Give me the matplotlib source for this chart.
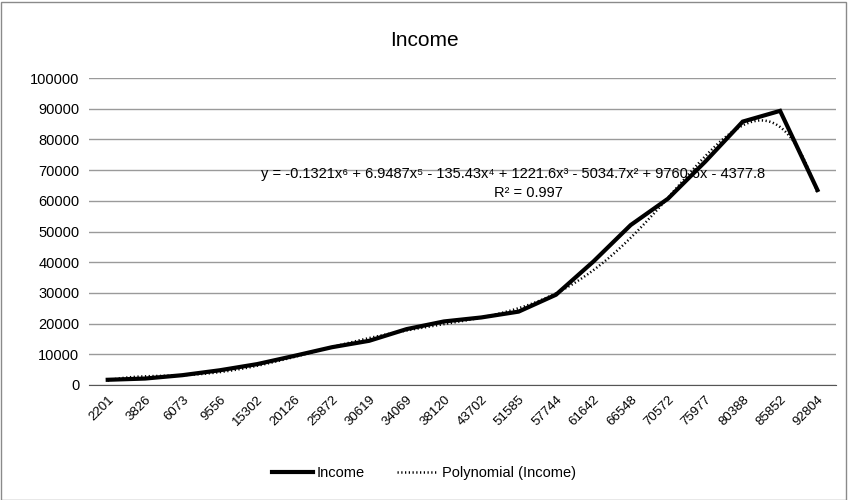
import matplotlib
matplotlib.use("Agg")
import matplotlib.pyplot as plt
from matplotlib.patches import Rectangle
import numpy as np

plt.rcParams['font.family'] = ['Liberation Sans', 'DejaVu Sans']

# Datos del grafico
categorias = ['2201', '3826', '6073', '9556', '15302', '20126', '25872', '30619',
              '34069', '38120', '43702', '51585', '57744', '61642', '66548',
              '70572', '75977', '80388', '85852', '92804']
ingresos = [1700, 2100, 3200, 4800, 6800, 9500, 12300, 14400, 18200, 20700,
            22000, 23900, 29400, 40200, 52100, 60700, 72800, 85800, 89300, 63500]
# Coeficientes de la tendencia polinomica (orden 6), tal como aparecen
coef_tendencia = [-0.1321, 6.9487, -135.43, 1221.6, -5034.7, 9760.6, -4377.8]
ecuacion = "y = -0.1321x⁶ + 6.9487x⁵ - 135.43x⁴ + 1221.6x³ - 5034.7x² + 9760.6x - 4377.8"
r2 = "R² = 0.997"

fig = plt.figure(figsize=(8.48, 5), dpi=100)
ax = fig.add_axes([0.105, 0.23, 0.881, 0.614])

x = np.arange(len(ingresos))
linea, = ax.plot(x, ingresos, color='black', lw=3, solid_joinstyle='miter', label='Income')

# Tendencia polinomica
xs = np.linspace(1, len(ingresos), 300)
ys = np.polyval(coef_tendencia, xs)
tend, = ax.plot(xs - 1, ys, color='black', lw=1.8, linestyle=(0, (0.5, 1.0)),
                label='Polynomial (Income)')

ax.set_ylim(0, 100000)
ax.set_xlim(-0.5, len(ingresos) - 0.5)
ax.set_yticks(np.arange(0, 100001, 10000))
ax.set_yticklabels([str(v) for v in range(0, 100001, 10000)], fontsize=10.5)
ax.set_xticks(x)
ax.set_xticklabels(categorias, rotation=45, ha='right', rotation_mode='anchor', fontsize=9.5)
ax.tick_params(axis='both', length=0, pad=7)
ax.tick_params(axis='x', pad=6)

ax.grid(True, axis='y', color='#9a9a9a', lw=1)
ax.set_axisbelow(True)
for s in ['top', 'right', 'left']:
    ax.spines[s].set_visible(False)
ax.spines['bottom'].set_color('#555555')

ax.text(10.85, 68800, ecuacion, ha='center', va='center', fontsize=10.5)
ax.text(11.25, 62400, r2, ha='center', va='center', fontsize=10.5)

fig.text(0.5, 0.918, 'Income', ha='center', va='center', fontsize=15)
fig.legend(handles=[linea, tend], loc='center', bbox_to_anchor=(0.5, 0.054), ncol=2,
           frameon=False, fontsize=10.5, handlelength=2.8, handletextpad=0.3,
           columnspacing=2.2)

fig.add_artist(Rectangle((0.001, 0.001), 0.997, 0.996, transform=fig.transFigure,
                         fill=False, edgecolor='#8a8a8a', lw=1))

fig.savefig('out.png', dpi=100)
